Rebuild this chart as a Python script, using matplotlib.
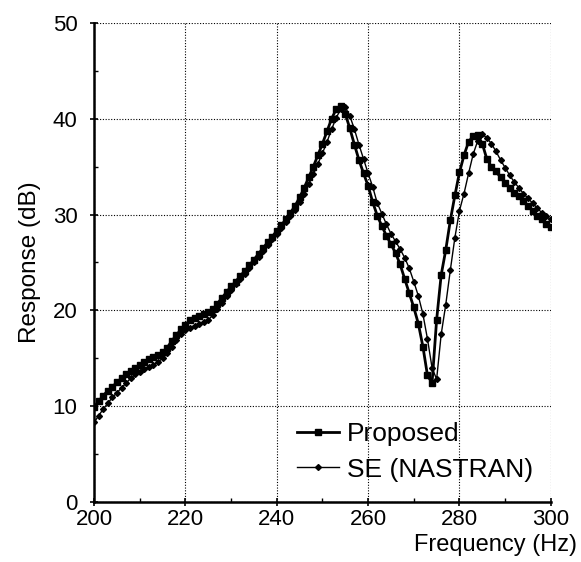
import matplotlib
matplotlib.use("Agg")
import matplotlib.pyplot as plt
from matplotlib.ticker import MultipleLocator

plt.rcParams['font.family'] = ['Liberation Sans', 'DejaVu Sans']

freq = list(range(200, 301))

proposed = [
    9.9, 10.5, 11.1, 11.6, 12.0, 12.5, 12.9, 13.3, 13.7, 14.0,
    14.3, 14.6, 14.9, 15.1, 15.3, 15.6, 16.1, 16.8, 17.4, 18.0,
    18.5, 19.0, 19.2, 19.4, 19.6, 19.8, 20.1, 20.7, 21.3, 21.9,
    22.5, 23.0, 23.6, 24.1, 24.7, 25.3, 25.9, 26.5, 27.1, 27.7,
    28.3, 28.9, 29.5, 30.2, 30.9, 31.8, 32.8, 33.9, 35.0, 36.2,
    37.4, 38.7, 40.0, 41.0, 41.3, 40.5, 39.0, 37.3, 35.7, 34.3,
    33.0, 31.3, 29.9, 28.8, 27.8, 26.9, 26.0, 24.8, 23.3, 21.8,
    20.3, 18.6, 16.2, 13.2, 12.4, 19.0, 23.7, 26.3, 29.4, 32.0,
    34.4, 36.2, 37.6, 38.2, 38.3, 37.4, 35.8, 35.0, 34.5, 33.9,
    33.3, 32.8, 32.3, 31.9, 31.4, 30.9, 30.4, 29.9, 29.5, 29.0,
    28.7,
]

se_nastran = [
    8.3, 9.0, 9.7, 10.3, 10.9, 11.4, 11.9, 12.4, 12.9, 13.3,
    13.6, 13.9, 14.1, 14.3, 14.6, 15.0, 15.5, 16.2, 16.9, 17.5,
    17.9, 18.2, 18.4, 18.6, 18.8, 19.0, 19.5, 20.1, 20.8, 21.5,
    22.1, 22.7, 23.3, 23.8, 24.4, 25.0, 25.6, 26.2, 26.8, 27.4,
    28.0, 28.6, 29.2, 29.8, 30.5, 31.3, 32.2, 33.2, 34.2, 35.3,
    36.4, 37.6, 38.9, 40.1, 41.0, 41.2, 40.3, 38.9, 37.3, 35.8,
    34.3, 32.9, 31.2, 30.1, 29.0, 28.0, 27.2, 26.4, 25.5, 24.4,
    23.0, 21.5, 19.6, 17.0, 14.0, 12.8, 17.5, 20.6, 24.2, 27.6,
    30.4, 32.2, 34.3, 36.3, 37.7, 38.4, 38.0, 37.4, 36.6, 35.7,
    34.9, 34.1, 33.4, 32.8, 32.2, 31.7, 31.2, 30.7, 30.2, 29.8,
    29.5,
]

x_ticks = [200, 220, 240, 260, 280, 300]
y_ticks = [0, 10, 20, 30, 40, 50]

fig = plt.figure(figsize=(5.81, 5.62), dpi=100)
ax = fig.add_axes([0.162, 0.107, 0.786, 0.852])

ax.plot(freq, proposed, color='black', lw=2.0, marker='s', markersize=4.5,
        label='Proposed', zorder=3)
ax.plot(freq, se_nastran, color='black', lw=1.0, marker='D', markersize=3,
        label='SE (NASTRAN)', zorder=3)

ax.set_xlim(200, 300)
ax.set_ylim(0, 50)
ax.set_xticks(x_ticks)
ax.set_yticks(y_ticks)
ax.xaxis.set_minor_locator(MultipleLocator(10))
ax.yaxis.set_minor_locator(MultipleLocator(5))
ax.tick_params(which='major', direction='inout', length=6, width=1.2,
               labelsize=16)
ax.tick_params(axis='x', which='major', pad=2)
ax.tick_params(axis='y', which='major', pad=9)
ax.tick_params(which='minor', direction='in', length=3, width=1)

ax.grid(True, which='major', linestyle=(0, (1, 1.5)), color='black', lw=0.8)

for s in ['top', 'right']:
    ax.spines[s].set_visible(False)
for s in ['left', 'bottom']:
    ax.spines[s].set_linewidth(1.8)

ax.set_ylabel('Response (dB)', fontsize=17.5, labelpad=8)
ax.set_xlabel('Frequency (Hz)', fontsize=17, ha='right', va='top')
ax.xaxis.set_label_coords(1.058, -0.068)

leg = ax.legend(loc='lower right', bbox_to_anchor=(0.985, 0.02), frameon=False,
                fontsize=19, handlelength=1.6, handletextpad=0.3,
                labelspacing=0.45, borderaxespad=0)

fig.savefig('out.png', dpi=100, facecolor='white')
